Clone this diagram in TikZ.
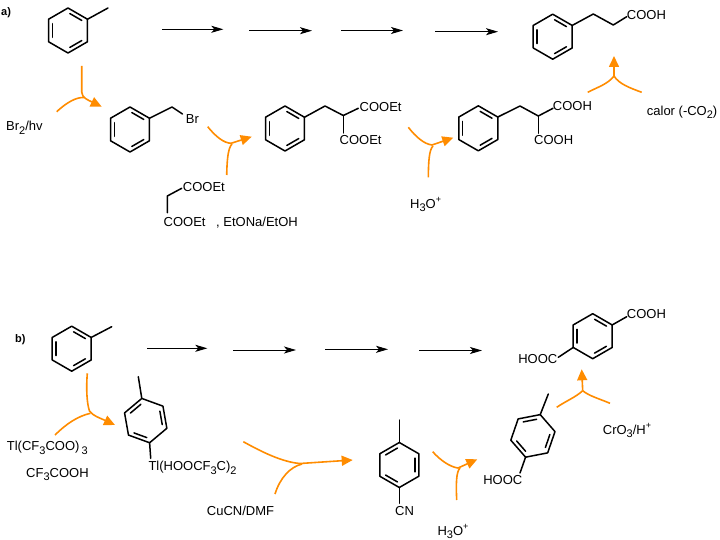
\documentclass[tikz,border=0pt]{standalone}
\usepackage{fontspec}
\setmainfont{Liberation Sans}
\usetikzlibrary{calc,arrows.meta}
\definecolor{org}{RGB}{255,140,0}
\newcommand\hexring[4]{%
  \coordinate (#1-c) at (#2,#3);
  \foreach \k in {1,...,6}{\coordinate (#1-\k) at ({#2+22.5*sin(#4+60*(\k-1))},{#3-22.5*cos(#4+60*(\k-1))});}
  \draw[bond] (#1-1)--(#1-2)--(#1-3)--(#1-4)--(#1-5)--(#1-6)--cycle;}
\newcommand\dbond[3]{%
  \path ($(#1-c)!0.8!(#1-#2)$) coordinate (tmpA) ($(#1-c)!0.8!(#1-#3)$) coordinate (tmpB);
  \draw[bond] ($(tmpA)!0.12!(tmpB)$) -- ($(tmpB)!0.12!(tmpA)$);}
\newcommand\sbs[1]{\raisebox{-3.5pt}{\fontsize{11}{11}\selectfont #1}}
\newcommand\sps[1]{\raisebox{5.5pt}{\fontsize{9}{9}\selectfont #1}}
\begin{document}
\begin{tikzpicture}[x=1pt,y=-1pt,
  bond/.style={line width=1.5pt,line cap=round,line join=round},
  rxn/.style={line width=0.9pt,-{Stealth[length=12pt,width=7pt,inset=3pt]}},
  oarr/.style={org,line width=1.6pt,-{Triangle[length=11pt,width=10pt]}},
  oline/.style={org,line width=1.6pt},
  lbl/.style={inner sep=0pt,anchor=base west,font=\fontsize{13}{15}\selectfont}]
\fill[white] (0,0) rectangle (720,540);
\useasboundingbox (0,0) rectangle (720,540);

% ---------- part a ----------
\node[lbl,font=\bfseries\fontsize{11}{12}\selectfont] (la) at (1,16) {a)};
% toluene
\hexring{A1}{68}{30.5}{0}
\dbond{A1}{1}{2}\dbond{A1}{3}{4}\dbond{A1}{5}{6}
\coordinate (A1m) at (108,8);
\draw[bond] (A1-2) -- (A1m);
% reaction arrows
\coordinate (ra1s) at (162,29.3); \coordinate (ra1e) at (223.3,29.3);
\coordinate (ra2s) at (249,30.7); \coordinate (ra2e) at (312,30.7);
\coordinate (ra3s) at (341,30.5); \coordinate (ra3e) at (403,30.5);
\coordinate (ra4s) at (435,31.7); \coordinate (ra4e) at (498,31.7);
\draw[rxn] (ra1s) -- (ra1e);
\draw[rxn] (ra2s) -- (ra2e);
\draw[rxn] (ra3s) -- (ra3e);
\draw[rxn] (ra4s) -- (ra4e);
% benzyl bromide
\hexring{A2}{130}{129.5}{0}
\dbond{A2}{1}{2}\dbond{A2}{3}{4}\dbond{A2}{5}{6}
\coordinate (A2a) at (172,107);
\coordinate (A2b) at (182.5,114);
\draw[bond] (A2-2) -- (A2a) -- (A2b);
\node[lbl] (br) at (185.7,123.3) {Br};
\node[lbl] (brhv) at (6,131) {Br\sbs{2}/hv};
% diethyl malonate reagent
\coordinate (M1) at (181.7,188.3);
\coordinate (M2) at (167.3,196);
\coordinate (M3) at (167.3,212.7);
\draw[bond] (M1) -- (M2) -- (M3);
\node[lbl] (mc1) at (182.7,191.7) {COOEt};
\node[lbl] (mc2) at (163.5,226.7) {COOEt};
\node[lbl] (etona) at (216,226.7) {, EtONa/EtOH};
% diethyl benzylmalonate
\hexring{A3}{285}{128.5}{0}
\dbond{A3}{1}{2}\dbond{A3}{3}{4}\dbond{A3}{5}{6}
\coordinate (A3a) at (325,106);
\coordinate (A3b) at (343.3,115.5);
\coordinate (A3u) at (358.3,108.3);
\coordinate (A3d) at (343.3,133);
\draw[bond] (A3-2) -- (A3a) -- (A3b) -- (A3u);
\draw[bond] (A3b) -- (A3d);
\node[lbl] (a3c1) at (359.5,111.5) {COOEt};
\node[lbl] (a3c2) at (339.5,145) {COOEt};
% benzylmalonic acid
\hexring{A4}{478.3}{128.3}{0}
\dbond{A4}{1}{2}\dbond{A4}{3}{4}\dbond{A4}{5}{6}
\coordinate (A4a) at (520,106);
\coordinate (A4b) at (538.3,116);
\coordinate (A4u) at (553,108.3);
\coordinate (A4d) at (538.3,133.3);
\draw[bond] (A4-2) -- (A4a) -- (A4b) -- (A4u);
\draw[bond] (A4b) -- (A4d);
\node[lbl] (a4c1) at (552.7,110.7) {COOH};
\node[lbl] (a4c2) at (534,144.3) {COOH};
\node[lbl] (h3oa) at (410,208.3) {H\sbs{3}O\sps{+}};
% hydrocinnamic acid
\hexring{A5}{552.7}{36.7}{0}
\dbond{A5}{1}{2}\dbond{A5}{3}{4}\dbond{A5}{5}{6}
\coordinate (A5a) at (593.3,14);
\coordinate (A5b) at (613.3,25);
\coordinate (A5c) at (626.7,16.7);
\draw[bond] (A5-2) -- (A5a) -- (A5b) -- (A5c);
\node[lbl] (a5c) at (626.7,19.3) {COOH};
\node[lbl] (calor) at (646.7,115.3) {calor (-CO\sbs{2})};
% orange arrows a
\coordinate (oa1s) at (81.7,66); \coordinate (oa1k) at (81.7,92); \coordinate (oa1t) at (101.7,106.7);
\coordinate (oa1b) at (56.7,111.7); \coordinate (oa1m) at (84,97.5);
\draw[oarr] (oa1s) -- (oa1k) .. controls (82,98) and (88,100) .. (oa1t);
\draw[oline] (oa1b) .. controls (66,103) and (76,97) .. (oa1m);
\coordinate (oa2s) at (207.7,126.7); \coordinate (oa2k) at (231,143.3); \coordinate (oa2t) at (251.7,136.7);
\coordinate (oa2b) at (226.7,175); \coordinate (oa2m) at (232,144);
\draw[oarr] (oa2s) .. controls (216,137) and (224,143) .. (oa2k) -- (oa2t);
\draw[oline] (oa2b) .. controls (227,160) and (228,148) .. (oa2m);
\coordinate (oa3s) at (408.3,127.3); \coordinate (oa3k) at (432,145); \coordinate (oa3t) at (453.3,137.7);
\coordinate (oa3b) at (428.3,177.3); \coordinate (oa3m) at (433,146);
\draw[oarr] (oa3s) .. controls (416,137) and (424,144) .. (oa3k) -- (oa3t);
\draw[oline] (oa3b) .. controls (428.5,162) and (429,150) .. (oa3m);
\coordinate (oa4k) at (614,76); \coordinate (oa4t) at (614,56);
\coordinate (oa4l) at (587.7,92.3); \coordinate (oa4r) at (641.7,92.3);
\draw[oarr] (oa4k) -- (oa4t);
\draw[oline] (oa4l) .. controls (598,87) and (608,84) .. (oa4k);
\draw[oline] (oa4r) .. controls (630,88) and (619,84) .. (oa4k);

% ---------- part b ----------
\node[lbl,font=\bfseries\fontsize{11}{12}\selectfont] (lb) at (15,342) {b)};
\hexring{B1}{71.7}{348.7}{0}
\dbond{B1}{1}{2}\dbond{B1}{3}{4}\dbond{B1}{5}{6}
\coordinate (B1m) at (111.7,326.7);
\draw[bond] (B1-2) -- (B1m);
\coordinate (rb1s) at (147,348.3); \coordinate (rb1e) at (207.3,348.3);
\coordinate (rb2s) at (233,350); \coordinate (rb2e) at (296,350);
\coordinate (rb3s) at (325,349.3); \coordinate (rb3e) at (388,349.3);
\coordinate (rb4s) at (419,350.5); \coordinate (rb4e) at (482,350.5);
\draw[rxn] (rb1s) -- (rb1e);
\draw[rxn] (rb2s) -- (rb2e);
\draw[rxn] (rb3s) -- (rb3e);
\draw[rxn] (rb4s) -- (rb4e);
% Tl aryl
\hexring{B2}{145.7}{420.6}{-10}
\dbond{B2}{6}{1}\dbond{B2}{2}{3}\dbond{B2}{4}{5}
\coordinate (B2m) at (138.3,376.7);
\coordinate (B2t) at (150.7,458.3);
\draw[bond] (B2-1) -- (B2m);
\draw[bond] (B2-4) -- (B2t);
\node[lbl] (tl2) at (148.3,470.7) {Tl(HOOCF\sbs{3}C)\sbs{2}};
\node[lbl] (tl1) at (6.7,450.7) {Tl(CF\sbs{3}COO)\,\sbs{3}};
\node[lbl] (tfa) at (26,477.3) {CF\sbs{3}COOH};
\node[lbl] (cucn) at (206.7,515) {CuCN/DMF};
% p-tolunitrile
\hexring{B3}{399.3}{465}{0}
\dbond{B3}{6}{1}\dbond{B3}{2}{3}\dbond{B3}{4}{5}
\coordinate (B3m) at (399.3,420);
\coordinate (B3n) at (399.3,503.3);
\draw[bond] (B3-1) -- (B3m);
\draw[bond] (B3-4) -- (B3n);
\node[lbl,anchor=base] (cn) at (404.5,515) {CN};
\node[lbl] (h3ob) at (437.3,535) {H\sbs{3}O\sps{+}};
% p-toluic acid
\hexring{B4}{532.9}{435.9}{19}
\dbond{B4}{6}{1}\dbond{B4}{2}{3}\dbond{B4}{4}{5}
\coordinate (B4m) at (548.3,394);
\coordinate (B4c) at (520,473);
\draw[bond] (B4-1) -- (B4m);
\draw[bond] (B4-4) -- (B4c);
\node[lbl,anchor=base east] (b4c) at (522.5,484) {HOOC};
\node[lbl] (cro3) at (602.7,434) {CrO\sbs{3}/H\sps{+}};
% terephthalic acid
\hexring{B5}{592.7}{336.2}{0}
\dbond{B5}{1}{2}\dbond{B5}{3}{4}\dbond{B5}{5}{6}
\coordinate (B5r) at (626.7,316.7);
\coordinate (B5l) at (558.3,357.3);
\draw[bond] (B5-2) -- (B5r);
\draw[bond] (B5-5) -- (B5l);
\node[lbl] (b5c1) at (626.7,318.3) {COOH};
\node[lbl,anchor=base east] (b5c2) at (557.5,363.3) {HOOC};
% orange arrows b
\coordinate (ob1s) at (87.3,373.3); \coordinate (ob1k) at (89.5,411); \coordinate (ob1t) at (115,425);
\coordinate (ob1b) at (55,435); \coordinate (ob1m) at (90.5,413.3);
\draw[oarr] (ob1s) .. controls (86,390) and (87,404) .. (ob1k) .. controls (93,416) and (100,418) .. (ob1t);
\draw[oline] (ob1b) .. controls (66,424) and (78,416) .. (ob1m);
\coordinate (ob2s) at (243.3,441.7); \coordinate (ob2k) at (300,463.5); \coordinate (ob2t) at (352.7,460);
\coordinate (ob2b) at (275,494); \coordinate (ob2m) at (302,464);
\draw[oarr] (ob2s) .. controls (262,452) and (282,462) .. (ob2k) -- (ob2t);
\draw[oline] (ob2b) .. controls (280,478) and (290,467) .. (ob2m);
\coordinate (ob3s) at (432.7,451.7); \coordinate (ob3k) at (458,468); \coordinate (ob3t) at (477.3,459.3);
\coordinate (ob3b) at (456.7,500); \coordinate (ob3m) at (460,468);
\draw[oarr] (ob3s) .. controls (440,460) and (450,467) .. (ob3k) -- (ob3t);
\draw[oline] (ob3b) .. controls (456,485) and (456,472) .. (ob3m);
\coordinate (ob4k) at (582.7,390.7); \coordinate (ob4t) at (581.7,369.3);
\coordinate (ob4l) at (556.7,407.3); \coordinate (ob4r) at (610,403.3);
\draw[oarr] (ob4k) -- (ob4t);
\draw[oline] (ob4l) .. controls (566,401) and (576,397) .. (ob4k);
\draw[oline] (ob4r) .. controls (600,399) and (589,396) .. (ob4k);
\end{tikzpicture}
\end{document}
